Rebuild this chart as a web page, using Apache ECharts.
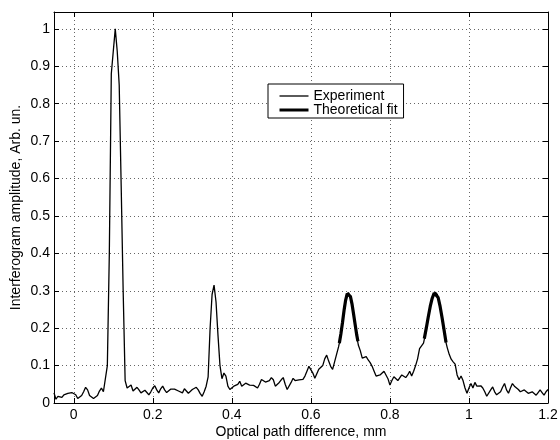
<!DOCTYPE html>
<html>
<head>
<meta charset="utf-8">
<script src="https://cdn.jsdelivr.net/npm/echarts@6/dist/echarts.min.js"></script>
<style>
  html, body { margin: 0; padding: 0; background: #fff; }
  #chart { width: 560px; height: 440px; }
</style>
</head>
<body>
<div id="chart"></div>
<script>
// experiment sampled on a regular grid of optical path difference (mm)
var expStart = -0.05;
var expStep = 0.005;
var expY = [
  0.027, 0.010, 0.018, 0.020, 0.015, 0.022, 0.020, 0.026, 0.024, 0.028,
  0.030, 0.022, 0.012, 0.014, 0.020, 0.030, 0.042, 0.035, 0.020, 0.016,
  0.012, 0.015, 0.020, 0.032, 0.040, 0.030, 0.028, 0.100, 0.400, 0.880,
  0.940, 1.000, 0.940, 0.850, 0.580, 0.300, 0.060, 0.040, 0.045, 0.048,
  0.032, 0.028, 0.042, 0.035, 0.027, 0.030, 0.034, 0.032, 0.022, 0.030,
  0.040, 0.046, 0.035, 0.027, 0.038, 0.045, 0.035, 0.028, 0.030, 0.037,
  0.040, 0.037, 0.033, 0.032, 0.030, 0.027, 0.038, 0.032, 0.026, 0.030,
  0.036, 0.040, 0.042, 0.035, 0.025, 0.018, 0.030, 0.045, 0.070, 0.200,
  0.290, 0.315, 0.270, 0.180, 0.100, 0.065, 0.080, 0.072, 0.045, 0.036,
  0.037, 0.045, 0.040, 0.050, 0.058, 0.045, 0.048, 0.053, 0.050, 0.048,
  0.050, 0.047, 0.045, 0.040, 0.050, 0.063, 0.060, 0.056, 0.052, 0.060,
  0.068, 0.062, 0.045, 0.040, 0.055, 0.062, 0.068, 0.050, 0.036, 0.040,
  0.055, 0.066, 0.060, 0.058, 0.062, 0.062, 0.063, 0.072, 0.085, 0.098,
  0.095, 0.080, 0.066, 0.065, 0.090, 0.090, 0.100, 0.118, 0.128, 0.112,
  0.098, 0.090, 0.110, 0.130, 0.150, 0.175, 0.215, 0.260, 0.288, 0.295,
  0.285, 0.260, 0.225, 0.185, 0.155, 0.140, 0.120, 0.115, 0.124, 0.115,
  0.108, 0.098, 0.085, 0.072, 0.075, 0.075, 0.080, 0.085, 0.088, 0.065,
  0.048, 0.060, 0.070, 0.065, 0.060, 0.065, 0.075, 0.073, 0.068, 0.075,
  0.085, 0.072, 0.085, 0.100, 0.118, 0.145, 0.142, 0.160, 0.185, 0.215,
  0.245, 0.270, 0.288, 0.296, 0.290, 0.268, 0.240, 0.205, 0.170, 0.148,
  0.130, 0.117, 0.110, 0.104, 0.075, 0.062, 0.072, 0.060, 0.040, 0.026,
  0.040, 0.052, 0.040, 0.055, 0.045, 0.040, 0.046, 0.040, 0.030, 0.018,
  0.015, 0.035, 0.043, 0.030, 0.022, 0.027, 0.030, 0.042, 0.052, 0.035,
  0.026, 0.040, 0.052, 0.045, 0.043, 0.036, 0.030, 0.033, 0.035, 0.030,
  0.026, 0.028, 0.030, 0.025, 0.021, 0.028, 0.035, 0.028, 0.021, 0.030,
  0.036
];

// theoretical fit, two peaks
var fit1X = [0.672, 0.676, 0.680, 0.684, 0.688, 0.692, 0.696, 0.700, 0.704, 0.708, 0.712, 0.716, 0.719];
var fit1Y = [0.160, 0.185, 0.215, 0.248, 0.275, 0.292, 0.294, 0.285, 0.265, 0.238, 0.210, 0.182, 0.165];
var fit2X = [0.887, 0.892, 0.897, 0.902, 0.907, 0.912, 0.917, 0.922, 0.927, 0.932, 0.937, 0.942];
var fit2Y = [0.172, 0.200, 0.230, 0.258, 0.280, 0.294, 0.295, 0.282, 0.258, 0.228, 0.195, 0.162];

var expData = expY.map(function (v, i) {
  return [+(expStart + i * expStep).toFixed(4), v];
});
function pairs(xs, ys) {
  return xs.map(function (x, i) { return [x, ys[i]]; });
}

var font = 'Liberation Sans, Arial, sans-serif';
var myChart = echarts.init(document.getElementById('chart'), null, { renderer: 'canvas' });

var tickStyle = { show: true, inside: true, length: 5, lineStyle: { color: '#000', width: 1 } };
var lineAxis = { show: true, onZero: false, lineStyle: { color: '#000', width: 1 } };
var grid = { type: [1, 3], color: '#666', width: 1 };

option = {
  animation: false,
  backgroundColor: '#fff',
  grid: { left: 54, right: 12, top: 12, bottom: 37, outerBoundsMode: 'none', containLabel: false },
  legend: {
    left: 268,
    top: 84,
    orient: 'vertical',
    itemWidth: 29,
    itemHeight: 10,
    itemGap: 0,
    padding: [5, 6, 1, 10],
    backgroundColor: '#fff',
    borderColor: '#000',
    borderWidth: 1,
    textStyle: { color: '#000', fontSize: 14, fontFamily: font },
    data: [
      { name: 'Experiment', lineStyle: { width: 1.3, color: '#000' }, itemStyle: { opacity: 0 } },
      { name: 'Theoretical fit', lineStyle: { width: 3, color: '#000' }, itemStyle: { opacity: 0 } }
    ]
  },
  xAxis: [
    {
      type: 'value', min: -0.05, max: 1.2, minInterval: 0.2, maxInterval: 0.2,
      name: 'Optical path difference, mm', nameLocation: 'middle', nameGap: 22,
      nameMoveOverlap: false,
      nameTextStyle: { color: '#000', fontSize: 14, fontFamily: font },
      axisLine: lineAxis, axisTick: tickStyle,
      axisLabel: { color: '#000', fontSize: 14, fontFamily: font, margin: 5, showMinLabel: false },
      splitLine: { show: true, lineStyle: grid }
    },
    {
      type: 'value', position: 'top', min: -0.05, max: 1.2, minInterval: 0.2, maxInterval: 0.2,
      axisLine: lineAxis, axisTick: tickStyle, axisLabel: { show: false }, splitLine: { show: false }
    }
  ],
  yAxis: [
    {
      type: 'value', min: 0, max: 1.045, interval: 0.1,
      name: 'Interferogram amplitude, Arb. un.', nameLocation: 'middle', nameGap: 31,
      nameMoveOverlap: false,
      nameTextStyle: { color: '#000', fontSize: 14, fontFamily: font },
      axisLine: lineAxis, axisTick: tickStyle,
      axisLabel: { color: '#000', fontSize: 14, fontFamily: font, margin: 4, showMaxLabel: false },
      splitLine: { show: true, lineStyle: grid }
    },
    {
      type: 'value', position: 'right', min: 0, max: 1.045, interval: 0.1,
      axisLine: lineAxis, axisTick: tickStyle, axisLabel: { show: false }, splitLine: { show: false }
    }
  ],
  series: [
    {
      name: 'Experiment', type: 'line', data: expData, symbol: 'none',
      lineStyle: { color: '#000', width: 1.3 }, itemStyle: { color: '#000' }, z: 3
    },
    {
      name: 'Theoretical fit', type: 'line', data: pairs(fit1X, fit1Y), symbol: 'none',
      lineStyle: { color: '#000', width: 3.2 }, itemStyle: { color: '#000' }, z: 4
    },
    {
      name: 'Theoretical fit', type: 'line', data: pairs(fit2X, fit2Y), symbol: 'none',
      lineStyle: { color: '#000', width: 3.2 }, itemStyle: { color: '#000' }, z: 4
    }
  ]
};

if (option && typeof option === "object") {
  myChart.setOption(option, true);
}
</script>
</body>
</html>
